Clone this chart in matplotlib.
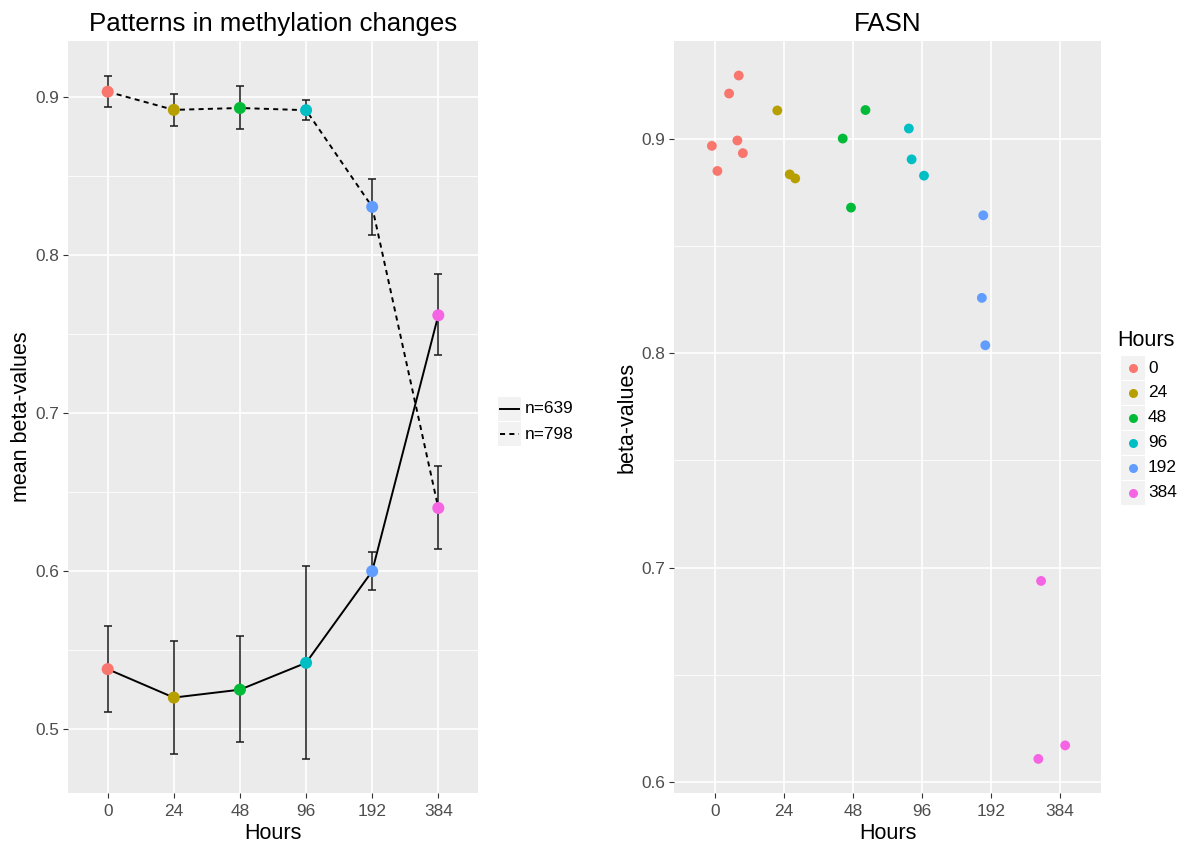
import numpy as np
import matplotlib.pyplot as plt
from matplotlib.patches import Rectangle
from matplotlib.lines import Line2D

plt.rcParams['font.family'] = ['Liberation Sans', 'DejaVu Sans']

# ── data ───────────────────────────────────────────────────────────────
hours = ['0', '24', '48', '96', '192', '384']
hour_colors = ['#F8766D', '#B79F00', '#00BA38', '#00BFC4', '#619CFF', '#F564E3']

# left panel: mean beta-values per group
mean_639 = [0.538, 0.520, 0.525, 0.542, 0.600, 0.762]
lo_639 = [0.511, 0.484, 0.492, 0.481, 0.588, 0.737]
hi_639 = [0.565, 0.556, 0.559, 0.603, 0.612, 0.788]

mean_798 = [0.9035, 0.892, 0.8932, 0.8918, 0.8306, 0.640]
lo_798 = [0.8937, 0.8816, 0.8797, 0.8854, 0.8131, 0.614]
hi_798 = [0.9135, 0.9023, 0.9068, 0.8983, 0.8485, 0.6665]

# right panel: FASN beta-values (jittered within hour)
fasn_hour = [0, 0, 0, 0, 0, 0, 1, 1, 1, 2, 2, 2, 3, 3, 3, 4, 4, 4, 5, 5, 5]
fasn_jitter = [0.34, 0.20, 0.32, -0.05, 0.40, 0.03,
               -0.10, 0.08, 0.16,
               0.18, -0.15, -0.03,
               -0.19, -0.15, 0.03,
               -0.11, -0.13, -0.08,
               -0.27, 0.08, -0.31]
fasn_beta = [0.9295, 0.9211, 0.8992, 0.8967, 0.8933, 0.8850,
             0.9132, 0.8834, 0.8815,
             0.9134, 0.9001, 0.8679,
             0.9048, 0.8904, 0.8828,
             0.8643, 0.8258, 0.8037,
             0.6938, 0.6171, 0.6108]

W, H = 1188, 844
BASE = 15.5
fig = plt.figure(figsize=(W / 100, H / 100), dpi=100)


def style_axes(ax, yticks, yminor, ylim):
    ax.set_facecolor('#EBEBEB')
    for s in ax.spines.values():
        s.set_visible(False)
    ax.set_xlim(0.4, 6.6)
    ax.set_ylim(*ylim)
    ax.set_xticks(range(1, 7))
    ax.set_xticklabels(hours)
    ax.set_yticks(yticks)
    ax.set_yticklabels([f'{t:.1f}' for t in yticks])
    for y in yminor:
        ax.axhline(y, color='white', lw=0.6, zorder=0)
    for y in yticks:
        ax.axhline(y, color='white', lw=1.2, zorder=0)
    for x in range(1, 7):
        ax.axvline(x, color='white', lw=1.2, zorder=0)
    ax.tick_params(colors='#333333', labelcolor='#4D4D4D', labelsize=BASE * 0.8,
                   length=3.5, width=0.8, pad=2.5)
    ax.tick_params(axis='x', pad=4.5)
    ax.set_xlabel('Hours', fontsize=BASE, labelpad=2.5)


# ── left panel ─────────────────────────────────────────────────────────
ax1 = fig.add_axes([68 / W, 1 - 793 / H, 410 / W, 752 / H])
style_axes(ax1, [0.5, 0.6, 0.7, 0.8, 0.9], [0.55, 0.65, 0.75, 0.85], (0.4596, 0.9356))
x = np.arange(1, 7)
for mean, lo, hi, ls in [(mean_639, lo_639, hi_639, '-'), (mean_798, lo_798, hi_798, '--')]:
    mean = np.array(mean)
    yerr = [mean - np.array(lo), np.array(hi) - mean]
    ax1.errorbar(x, mean, yerr=yerr, fmt='none', ecolor='#1A1A1A', elinewidth=1.1,
                 capsize=3.2, capthick=1.1, zorder=2)
    line, = ax1.plot(x, mean, color='black', lw=1.4, zorder=3)
    if ls == '--':
        line.set_dashes((2.6, 2.2))
    ax1.scatter(x, mean, c=hour_colors, s=75, zorder=4, linewidths=0)
ax1.set_ylabel('mean beta-values', fontsize=BASE, labelpad=3)
ax1.set_title('Patterns in methylation changes', fontsize=BASE * 1.2, pad=7)

# left legend
for i, (lab, dashed) in enumerate([('n=639', False), ('n=798', True)]):
    y0 = 397 + i * 25
    fig.add_artist(Rectangle((497.5 / W, 1 - (y0 + 24) / H), 23.5 / W, 23.5 / H,
                             transform=fig.transFigure, facecolor='#F2F2F2', edgecolor='none'))
    ln = Line2D([500 / W, 519 / W], [1 - (y0 + 12) / H] * 2, transform=fig.transFigure,
                color='black', lw=1.4)
    if dashed:
        ln.set_dashes((2.6, 2.2))
    fig.add_artist(ln)
    fig.text(525 / W, 1 - (y0 + 12) / H, lab, fontsize=BASE * 0.8, va='center', ha='left')

# ── right panel ────────────────────────────────────────────────────────
ax2 = fig.add_axes([674 / W, 1 - 793 / H, 427 / W, 752 / H])
style_axes(ax2, [0.6, 0.7, 0.8, 0.9], [0.65, 0.75, 0.85], (0.5949, 0.9456))
fx = np.array(fasn_hour) + 1 + np.array(fasn_jitter)
ax2.scatter(fx, fasn_beta, c=[hour_colors[h] for h in fasn_hour], s=50, zorder=3,
            linewidths=0)
ax2.set_ylabel('beta-values', fontsize=BASE, labelpad=3)
ax2.set_title('FASN', fontsize=BASE * 1.2, pad=7)

# right legend
fig.text(1117 / W, 1 - 341 / H, 'Hours', fontsize=BASE, va='center', ha='left')
for i, (lab, col) in enumerate(zip(hours, hour_colors)):
    y0 = 356 + i * 24.9
    fig.add_artist(Rectangle((1121 / W, 1 - (y0 + 24) / H), 23.5 / W, 23.5 / H,
                             transform=fig.transFigure, facecolor='#F2F2F2', edgecolor='none'))
    fig.add_artist(Line2D([1133 / W], [1 - (y0 + 12) / H], transform=fig.transFigure,
                          marker='o', markersize=6.5, color=col, markeredgewidth=0))
    fig.text(1148 / W, 1 - (y0 + 12) / H, lab, fontsize=BASE * 0.8, va='center', ha='left')

fig.savefig('out.png', dpi=100, facecolor='white')
